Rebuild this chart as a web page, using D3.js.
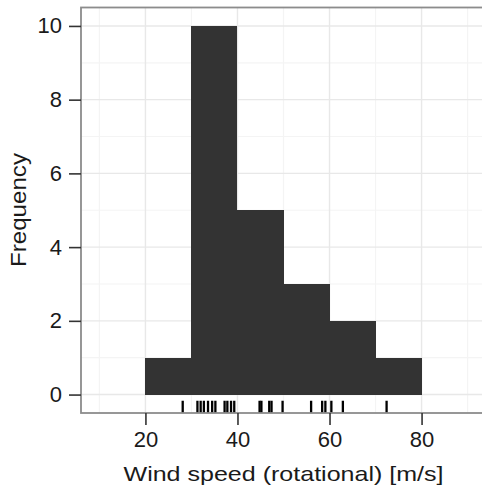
<!DOCTYPE html>
<html>
<head>
<meta charset="utf-8">
<script src="https://cdn.jsdelivr.net/npm/d3@7"></script>
<style>
  body { margin: 0; background: #fff; }
  text { font-family: "Liberation Sans", Arial, sans-serif; fill: #1a1a1a; }
</style>
</head>
<body>
<div id="chart"></div>
<script>
// Observations (rug), wind speed in m/s
const windSpeed = [
  28.1,
  31.3, 32.0, 32.7, 33.6, 34.5, 35.2, 37.2, 37.8, 38.6, 39.3,
  44.8, 45.2, 46.9, 47.4, 49.8,
  56.0, 58.4, 59.1,
  60.4, 62.9,
  72.4
];
const binEdges = [20, 30, 40, 50, 60, 70, 80];
const xTicks = [20, 40, 60, 80];
const xMinor = [10, 30, 50, 70, 90];
const yTicks = [0, 2, 4, 6, 8, 10];
const yMinor = [1, 3, 5, 7, 9];

const W = 482, H = 488;
const panel = { left: 81, top: 7.5, right: 486, bottom: 413 };

const svg = d3.select("#chart")
  .append("svg")
  .attr("width", W)
  .attr("height", H);

// Scales
const x = d3.scaleLinear().domain([6, 94]).range([panel.left, panel.right]);
const y = d3.scaleLinear().domain([-0.5, 10.5]).range([panel.bottom, panel.top]);

// Histogram bins
const bins = d3.bin()
  .domain([binEdges[0], binEdges[binEdges.length - 1]])
  .thresholds(binEdges.slice(1, -1))(windSpeed);

svg.append("clipPath").attr("id", "clip")
  .append("rect")
  .attr("x", panel.left).attr("y", panel.top)
  .attr("width", W - panel.left).attr("height", panel.bottom - panel.top);

const g = svg.append("g").attr("clip-path", "url(#clip)");

// Grid - minor then major
g.selectAll(".vminor").data(xMinor).enter().append("line")
  .attr("x1", d => x(d)).attr("x2", d => x(d))
  .attr("y1", panel.top).attr("y2", panel.bottom)
  .style("stroke", "#f4f4f4").style("stroke-width", 1.2);
g.selectAll(".hminor").data(yMinor).enter().append("line")
  .attr("y1", d => y(d)).attr("y2", d => y(d))
  .attr("x1", panel.left).attr("x2", W)
  .style("stroke", "#f4f4f4").style("stroke-width", 1.2);
g.selectAll(".vmajor").data(xTicks).enter().append("line")
  .attr("x1", d => x(d)).attr("x2", d => x(d))
  .attr("y1", panel.top).attr("y2", panel.bottom)
  .style("stroke", "#e8e8e8").style("stroke-width", 1.4);
g.selectAll(".hmajor").data(yTicks).enter().append("line")
  .attr("y1", d => y(d)).attr("y2", d => y(d))
  .attr("x1", panel.left).attr("x2", W)
  .style("stroke", "#e8e8e8").style("stroke-width", 1.4);

// Bars - crisp edges so adjacent bins don't show a light seam
g.selectAll(".bar").data(bins).enter().append("rect")
  .attr("x", d => x(d.x0))
  .attr("width", d => x(d.x1) - x(d.x0))
  .attr("y", d => y(d.length))
  .attr("height", d => y(0) - y(d.length))
  .attr("fill", "#333333")
  .attr("shape-rendering", "crispEdges");

// Rug
const rugLen = 0.03 * (panel.bottom - panel.top);
g.selectAll(".rug").data(windSpeed).enter().append("line")
  .attr("x1", d => x(d)).attr("x2", d => x(d))
  .attr("y1", panel.bottom).attr("y2", panel.bottom - rugLen)
  .style("stroke", "#000").style("stroke-width", 2.3);

// Panel border
svg.append("rect")
  .attr("x", panel.left).attr("y", panel.top)
  .attr("width", panel.right - panel.left).attr("height", panel.bottom - panel.top)
  .attr("fill", "none")
  .style("stroke", "#8c8c8c").style("stroke-width", 1.8);

// Axes
const tickLen = 12;
const xAxis = svg.append("g").attr("transform", `translate(0,${panel.bottom})`)
  .call(d3.axisBottom(x).tickValues(xTicks).tickSize(tickLen).tickPadding(6));
const yAxis = svg.append("g").attr("transform", `translate(${panel.left},0)`)
  .call(d3.axisLeft(y).tickValues(yTicks).tickSize(tickLen).tickPadding(7));

[xAxis, yAxis].forEach(a => {
  a.select(".domain").remove();
  a.selectAll(".tick line").style("stroke", "#333").style("stroke-width", 1.6);
  a.selectAll(".tick text")
    .style("font-size", "22px")
    .style("font-family", "'Liberation Sans', Arial, sans-serif")
    .attr("fill", "#1a1a1a");
});

// Axis titles
svg.append("text")
  .attr("x", (x(20) + x(80)) / 2)
  .attr("y", 481)
  .attr("text-anchor", "middle")
  .attr("textLength", 320)
  .attr("lengthAdjust", "spacingAndGlyphs")
  .style("font-size", "21px")
  .text("Wind speed (rotational) [m/s]");

svg.append("text")
  .attr("transform", `translate(26,${210}) rotate(-90)`)
  .attr("text-anchor", "middle")
  .attr("textLength", 114)
  .attr("lengthAdjust", "spacingAndGlyphs")
  .style("font-size", "22px")
  .text("Frequency");
</script>
</body>
</html>
